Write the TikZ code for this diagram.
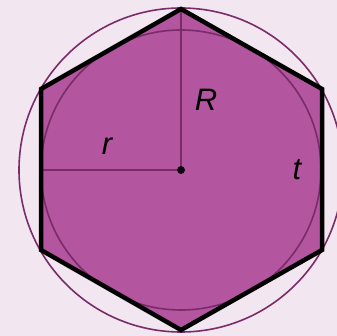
\documentclass[tikz,border=0pt]{standalone}
\usepackage{fontspec}
\setmainfont{Liberation Sans}
\begin{document}
\begin{tikzpicture}[x=1pt,y=-1pt,
  circ/.style={draw=circpurple,line width=1.6pt},
  radline/.style={draw=circpurple,line width=1.4pt},
  lbl/.style={font=\fontsize{31}{31}\selectfont\itshape,text=black,inner sep=0pt}]
\definecolor{bgc}{HTML}{F2E6F0}
\definecolor{fillc}{HTML}{B3559F}
\definecolor{circpurple}{HTML}{7A2C69}
\fill[bgc] (0,0) rectangle (337,336);
\useasboundingbox (0,0) rectangle (337,336);
\coordinate (O) at (181,170);
\coordinate (A) at (181,9);
\coordinate (B) at (322,89);
\coordinate (C) at (322,250);
\coordinate (D) at (181,330);
\coordinate (E) at (41,250);
\coordinate (F) at (41,89);
\coordinate (L) at (41,170);
\fill[fillc] (A)--(B)--(C)--(D)--(E)--(F)--cycle;
\draw[circ] (O) circle[radius=162];
\draw[circ] (O) circle[radius=140];
\draw[radline] (O) -- (A);
\draw[radline] (O) -- (L);
\fill[black!85!circpurple] (O) circle[radius=4];
\draw[black,line width=4.5pt,line join=miter] (A)--(B)--(C)--(D)--(E)--(F)--cycle;
\node[lbl] (R) at (206,100) {R};
\node[lbl] (r) at (107,146) {r};
\node[lbl] (t) at (297,170) {t};
\end{tikzpicture}
\end{document}
